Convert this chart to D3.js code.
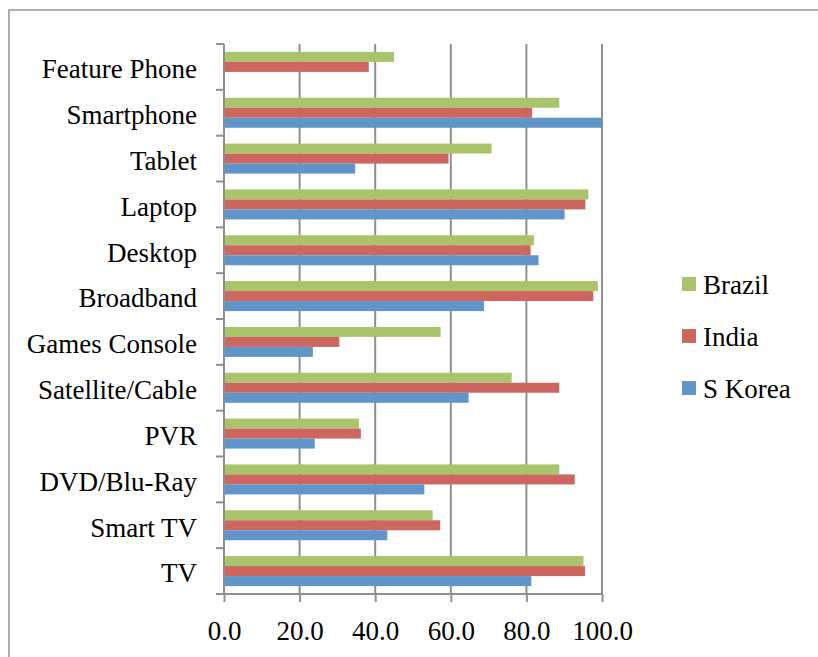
<!DOCTYPE html>
<html>
<head>
<meta charset="utf-8">
<script src="https://cdn.jsdelivr.net/npm/d3@7"></script>
<style>
  body { margin: 0; background: #fff; }
  text { font-family: "Liberation Serif", "DejaVu Serif", serif; fill: #000; }
</style>
</head>
<body>
<div id="chart"></div>
<script>
// device ownership by country (%)
var categories = ["Feature Phone", "Smartphone", "Tablet", "Laptop", "Desktop", "Broadband",
    "Games Console", "Satellite/Cable", "PVR", "DVD/Blu-Ray", "Smart TV", "TV"]
var series = ["Brazil", "India", "S Korea"]
var brazil = [45.0, 88.7, 70.8, 96.4, 82.0, 98.9, 57.3, 76.1, 35.7, 88.7, 55.2, 95.1]
var india = [38.3, 81.5, 59.4, 95.6, 81.1, 97.7, 30.5, 88.7, 36.2, 92.8, 57.2, 95.5]
var skorea = [null, 100.0, 34.7, 90.1, 83.2, 68.8, 23.5, 64.7, 24.0, 53.0, 43.2, 81.3]
var xTicks = [0, 20, 40, 60, 80, 100]
var colors = ["#aac46c", "#cd665f", "#5f95c9"]

var values = [brazil, india, skorea]
var rows = []
categories.forEach(function(c, i){
    series.forEach(function(s, j){
        if (values[j][i] != null) rows.push({cat: c, series: s, value: values[j][i]})
    })
})

var width = 818, height = 657
var svg = d3.select("#chart").append("svg")
    .attr("width", width)
    .attr("height", height)

// outer frame (only top and left edges fall inside the picture)
svg.append("rect")
    .attr("x", 9).attr("y", 10)
    .attr("width", 900).attr("height", 900)
    .attr("fill", "none")
    .attr("stroke", "#9c9c9c")
    .attr("stroke-width", 1.6)

var x = d3.scaleLinear().domain([0, 100]).range([224, 602])
var y = d3.scaleBand().domain(categories).range([44, 594]).paddingInner(0).paddingOuter(0)
var inner = d3.scaleBand().domain(series).range([0, y.bandwidth()]).paddingInner(0).paddingOuter(0.79)
var color = d3.scaleOrdinal().domain(series).range(colors)

var axisColor = "#8f8f8f"

// vertical gridlines
svg.append("g").selectAll("line")
    .data(xTicks.slice(1))
    .enter().append("line")
    .attr("x1", function(d){ return x(d) })
    .attr("x2", function(d){ return x(d) })
    .attr("y1", y.range()[0])
    .attr("y2", y.range()[1])
    .attr("stroke", axisColor)
    .attr("stroke-width", 2)

// bars
svg.append("g").selectAll("rect")
    .data(rows)
    .enter().append("rect")
    .attr("x", x(0))
    .attr("y", function(d){ return y(d.cat) + inner(d.series) })
    .attr("width", function(d){ return x(d.value) - x(0) })
    .attr("height", inner.bandwidth())
    .attr("fill", function(d){ return color(d.series) })

// y axis line + ticks at band edges
var yAxis = svg.append("g")
yAxis.append("line")
    .attr("x1", x(0)).attr("x2", x(0))
    .attr("y1", y.range()[0]).attr("y2", y.range()[1])
    .attr("stroke", axisColor).attr("stroke-width", 2)
var edges = categories.map(function(c){ return y(c) }).concat([y.range()[1]])
yAxis.selectAll(".tick")
    .data(edges)
    .enter().append("line")
    .attr("x1", x(0) - 8).attr("x2", x(0))
    .attr("y1", function(d){ return d }).attr("y2", function(d){ return d })
    .attr("stroke", axisColor).attr("stroke-width", 2)
yAxis.selectAll("text")
    .data(categories)
    .enter().append("text")
    .attr("x", 197)
    .attr("y", function(d){ return y(d) + y.bandwidth() / 2 })
    .attr("dy", "0.42em")
    .attr("text-anchor", "end")
    .attr("font-size", 27)
    .text(function(d){ return d })

// x axis
var xAxis = svg.append("g")
    .attr("transform", "translate(0," + y.range()[1] + ")")
    .call(d3.axisBottom(x).tickValues(xTicks).tickSize(8).tickPadding(19).tickFormat(d3.format(".1f")))
xAxis.select(".domain").remove()
xAxis.append("line")
    .attr("x1", x(0) - 8).attr("x2", x(100))
    .attr("stroke", axisColor).attr("stroke-width", 2)
xAxis.selectAll(".tick line").attr("stroke", axisColor).attr("stroke-width", 2)
xAxis.selectAll(".tick text")
    .attr("font-size", 27)
    .attr("font-family", "Liberation Serif, DejaVu Serif, serif")
    .attr("fill", "#000")

// legend
var legend = svg.append("g").selectAll("g")
    .data(series)
    .enter().append("g")
    .attr("transform", function(d, i){ return "translate(682," + (277 + i * 52) + ")" })
legend.append("rect")
    .attr("width", 14).attr("height", 14)
    .attr("fill", function(d){ return color(d) })
legend.append("text")
    .attr("x", 21)
    .attr("y", 17)
    .attr("font-size", 27)
    .text(function(d){ return d })
</script>
</body>
</html>
